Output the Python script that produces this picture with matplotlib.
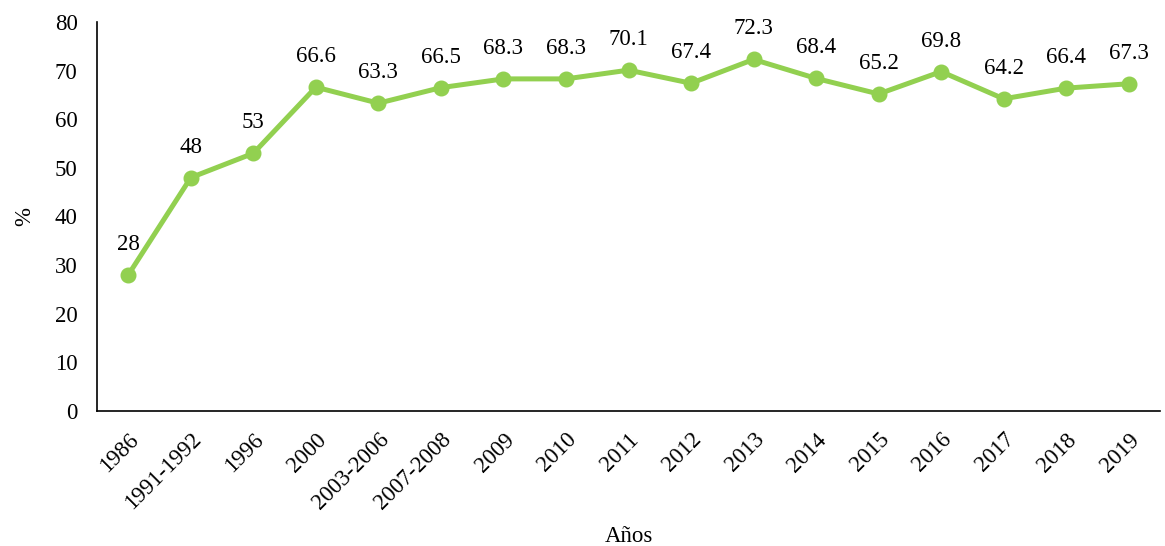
import matplotlib.pyplot as plt

anios = ['1986', '1991-1992', '1996', '2000', '2003-2006', '2007-2008', '2009', '2010',
         '2011', '2012', '2013', '2014', '2015', '2016', '2017', '2018', '2019']
valores = [28, 48, 53, 66.6, 63.3, 66.5, 68.3, 68.3, 70.1, 67.4, 72.3, 68.4, 65.2,
           69.8, 64.2, 66.4, 67.3]
etiquetas = ['28', '48', '53', '66.6', '63.3', '66.5', '68.3', '68.3', '70.1', '67.4',
             '72.3', '68.4', '65.2', '69.8', '64.2', '66.4', '67.3']

plt.rcParams['font.family'] = ['Liberation Serif', 'DejaVu Serif']
plt.rcParams['font.size'] = 16.5

fig = plt.figure(figsize=(11.65, 5.46), dpi=100)
ax = fig.add_axes([0.0833, 0.2473, 0.9124, 0.7124])

x = range(len(anios))
ax.plot(x, valores, color='#92D050', linewidth=3.6, marker='o', markersize=10.5)

for i, (v, t) in enumerate(zip(valores, etiquetas)):
    ax.annotate(t, (i, v), xytext=(0, 22), textcoords='offset points',
                ha='center', va='center', fontsize=16.5)

ax.set_xlim(-0.5, len(anios) - 0.5)
ax.set_ylim(0, 80)
ax.set_yticks(range(0, 81, 10))
ax.set_xticks(list(x))
ax.set_xticklabels(anios, rotation=45, ha='right', rotation_mode='anchor')
ax.tick_params(axis='both', length=0, labelsize=16.5)
ax.tick_params(axis='y', pad=14)
ax.tick_params(axis='x', pad=13)

ax.spines['top'].set_visible(False)
ax.spines['right'].set_visible(False)
ax.spines['left'].set_linewidth(1.2)
ax.spines['bottom'].set_linewidth(1.2)

ax.set_xlabel('Años', fontsize=16.5, labelpad=9)
ax.set_ylabel('%', fontsize=16.5, labelpad=14)

fig.savefig('out.png', dpi=100)
